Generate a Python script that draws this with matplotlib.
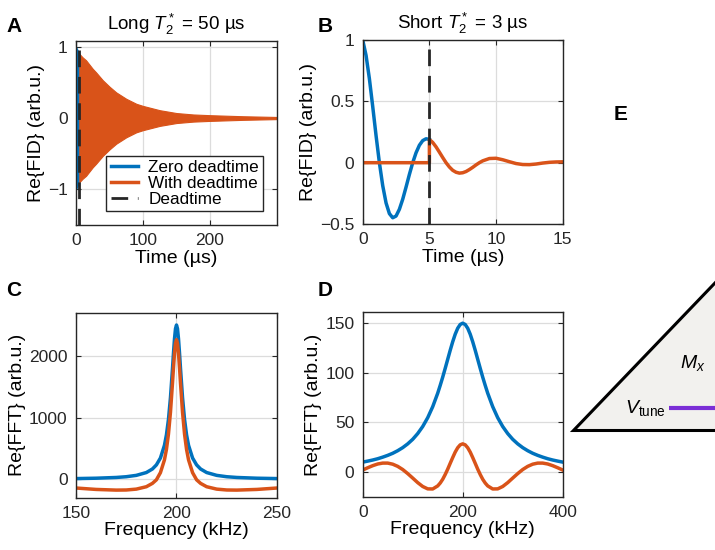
import matplotlib
matplotlib.use("Agg")
import matplotlib.pyplot as plt
from matplotlib.lines import Line2D
from matplotlib.patches import Polygon

BLUE = "#0072BD"
ORANGE = "#D95319"
DARK = "#262626"

# A: long T2*, envelope of the dense oscillation
tA_blue = [0, 5]
envA_blue = [1.0, 0.90]
tA = [5, 10, 15, 20, 25, 30, 40, 50, 60, 75, 90, 100, 125, 150, 175, 200, 250, 300]
envA = [0.90, 0.85, 0.81, 0.75, 0.69, 0.64, 0.53, 0.44, 0.36, 0.27, 0.20, 0.17,
        0.11, 0.07, 0.05, 0.04, 0.025, 0.015]
deadtime = 5

# B: short T2*
tB_blue = [0, 0.25, 0.5, 0.75, 1.0, 1.25, 1.5, 1.75, 2.0, 2.25, 2.5, 2.75, 3.0,
           3.25, 3.5, 3.75, 4.0, 4.25, 4.5, 4.75, 5.0]
fidB_blue = [1.0, 0.875, 0.685, 0.458, 0.221, 0.0, -0.187, -0.328, -0.415, -0.449,
             -0.435, -0.380, -0.298, -0.199, -0.096, 0.0, 0.081, 0.142, 0.180, 0.195, 0.189]
tB_orange = [0, 5, 5, 5.25, 5.5, 5.75, 6.0, 6.25, 6.5, 6.75, 7.0, 7.25, 7.5, 7.75,
             8.0, 8.25, 8.5, 8.75, 9.0, 9.5, 10.0, 10.5, 11.0, 11.5, 12.0, 12.5,
             13.0, 13.5, 14.0, 14.5, 15.0]
fidB_orange = [0, 0, 0.189, 0.165, 0.129, 0.086, 0.042, 0.0, -0.035, -0.062, -0.078,
               -0.085, -0.082, -0.072, -0.056, -0.038, -0.018, 0.0, 0.015, 0.034,
               0.036, 0.024, 0.008, -0.007, -0.015, -0.016, -0.011, -0.003, 0.003,
               0.006, 0.007]

# C: spectrum, long T2*
fC = [150, 160, 170, 175, 180, 185, 188, 190, 192, 194, 195, 196, 197, 198, 198.5,
      199, 199.5, 200, 200.5, 201, 201.5, 202, 203, 204, 205, 206, 208, 210, 212,
      215, 220, 225, 230, 240, 250]
ftC_blue = [10, 16, 28, 40, 62, 108, 165, 232, 343, 549, 721, 970, 1324, 1792, 2046,
            2275, 2440, 2500, 2440, 2275, 2046, 1792, 1324, 970, 721, 549, 343, 232,
            165, 108, 62, 40, 28, 16, 10]
ftC_orange = [-143, -166, -177, -175, -161, -122, -68, -10, 106, 313, 484, 732, 1087,
              1555, 1808, 2037, 2202, 2262, 2202, 2037, 1808, 1555, 1087, 732, 484,
              313, 106, -10, -68, -122, -161, -175, -177, -166, -143]

# D: spectrum, short T2*
fD = [0, 10, 20, 30, 40, 50, 60, 70, 80, 90, 100, 110, 120, 130, 140, 150, 155, 160,
      165, 170, 175, 180, 185, 190, 195, 200, 205, 210, 215, 220, 225, 230, 235, 240,
      245, 250, 260, 270, 280, 290, 300, 310, 320, 330, 340, 350, 360, 370, 380, 390,
      400]
ftD_blue = [9.9, 10.9, 12.0, 13.3, 14.9, 16.7, 18.8, 21.4, 24.5, 28.3, 32.9, 38.7,
            45.8, 54.7, 65.8, 79.4, 87.3, 95.6, 104.5, 113.6, 122.7, 131.3, 138.9,
            144.9, 148.7, 150, 148.7, 144.9, 138.9, 131.3, 122.7, 113.6, 104.5, 95.6,
            87.3, 79.4, 65.8, 54.7, 45.8, 38.7, 32.9, 28.3, 24.5, 21.4, 18.8, 16.7,
            14.9, 13.3, 12.0, 10.9, 9.9]
ftD_orange = [1.9, 4.2, 6.3, 8.0, 8.9, 8.9, 7.8, 5.6, 2.4, -1.7, -6.2, -10.8, -14.7,
              -17.1, -17.2, -14.1, -11.2, -7.4, -2.6, 2.8, 8.7, 14.5, 20.0, 24.4,
              27.3, 28.3, 27.3, 24.4, 20.0, 14.5, 8.7, 2.8, -2.6, -7.4, -11.2, -14.1,
              -17.2, -17.1, -14.7, -10.8, -6.2, -1.7, 2.4, 5.6, 7.8, 8.9, 8.9, 8.0,
              6.3, 4.2, 1.9]

legend_labels = ["Zero deadtime", "With deadtime", "Deadtime"]

# E: diagram fragment (figure pixels)
triangle_x = [573, 760, 760]
triangle_y = [430, 430, 235]
vtune_x = [669, 716]
vtune_y = [408, 408]

plt.rcParams["font.family"] = ["Liberation Sans", "DejaVu Sans"]
plt.rcParams["mathtext.fontset"] = "custom"
plt.rcParams["mathtext.rm"] = "Liberation Sans"
plt.rcParams["mathtext.it"] = "Liberation Sans:italic"


def style(ax, xlim, ylim, xticks, yticks, yticklabels=None):
    ax.set_xlim(xlim)
    ax.set_ylim(ylim)
    ax.set_xticks(xticks)
    ax.set_yticks(yticks)
    if yticklabels is not None:
        ax.set_yticklabels(yticklabels)
    ax.grid(True, color="#dcdcdc", lw=0.9)
    ax.set_axisbelow(True)
    ax.tick_params(direction="in", top=True, right=True, length=3.5, width=0.8,
                   labelsize=12.5, pad=6, colors=DARK)
    for s in ax.spines.values():
        s.set_color(DARK)
        s.set_linewidth(1.0)


def main():
    fig = plt.figure(figsize=(7.15, 5.5), dpi=100)

    # A
    ax = fig.add_axes([0.1063, 0.5909, 0.2811, 0.3345])
    ax.fill_between(tA_blue, [-v for v in envA_blue], envA_blue, color=BLUE, lw=0.8)
    ax.fill_between(tA, [-v for v in envA], envA, color=ORANGE, lw=0.8, edgecolor=ORANGE)
    ax.axvline(deadtime, color=DARK, lw=2, dashes=(6, 3.5))
    style(ax, (0, 300), (-1.5, 1.08), [0, 100, 200], [-1, 0, 1])
    ax.set_xlabel("Time (µs)", fontsize=14, labelpad=1)
    ax.set_ylabel("Re{FID} (arb.u.)", fontsize=14, labelpad=2)
    ax.set_title(r"Long $T_2^*$ = 50 µs", fontsize=13.5, pad=8)
    handles = [Line2D([], [], color=BLUE, lw=2.5),
               Line2D([], [], color=ORANGE, lw=2.5),
               Line2D([], [], color=DARK, lw=2, dashes=(6, 3.5))]
    leg = ax.legend(handles, legend_labels, loc="lower right", fontsize=12.3,
                    frameon=True, fancybox=False, edgecolor=DARK, framealpha=1,
                    labelspacing=0.05, borderpad=0.25, handlelength=1.6,
                    handletextpad=0.6, borderaxespad=0.8)
    leg.get_frame().set_linewidth(1.0)

    # B
    ax = fig.add_axes([0.5073, 0.5927, 0.2797, 0.3345])
    ax.plot(tB_blue, fidB_blue, color=BLUE, lw=2.5)
    ax.plot(tB_orange, fidB_orange, color=ORANGE, lw=2.5)
    ax.axvline(deadtime, color=DARK, lw=2, dashes=(6, 3.5))
    style(ax, (0, 15), (-0.5, 1), [0, 5, 10, 15], [-0.5, 0, 0.5, 1],
          ["\u22120.5", "0", "0.5", "1"])
    ax.set_xlabel("Time (µs)", fontsize=14, labelpad=1)
    ax.set_ylabel("Re{FID} (arb.u.)", fontsize=14, labelpad=2)
    ax.set_title(r"Short $T_2^*$ = 3 µs", fontsize=13.5, pad=8)

    # C
    ax = fig.add_axes([0.1063, 0.0951, 0.2811, 0.3364])
    ax.plot(fC, ftC_blue, color=BLUE, lw=2.5)
    ax.plot(fC, ftC_orange, color=ORANGE, lw=2.5)
    style(ax, (150, 250), (-300, 2700), [150, 200, 250], [0, 1000, 2000])
    ax.set_xlabel("Frequency (kHz)", fontsize=14, labelpad=1)
    ax.set_ylabel("Re{FFT} (arb.u.)", fontsize=14, labelpad=2)

    # D
    ax = fig.add_axes([0.5073, 0.0969, 0.2797, 0.3353])
    ax.plot(fD, ftD_blue, color=BLUE, lw=2.5)
    ax.plot(fD, ftD_orange, color=ORANGE, lw=2.5)
    style(ax, (0, 400), (-25, 161), [0, 200, 400], [0, 50, 100, 150])
    ax.set_xlabel("Frequency (kHz)", fontsize=14, labelpad=1)
    ax.set_ylabel("Re{FFT} (arb.u.)", fontsize=14, labelpad=2)

    # E fragment
    ax = fig.add_axes([560 / 715, 0, 155 / 715, 1])
    ax.set_xlim(560, 715)
    ax.set_ylim(550, 0)
    ax.axis("off")
    ax.add_patch(Polygon(list(zip(triangle_x, triangle_y)), closed=True,
                         facecolor="#f2f1ee", edgecolor="black", lw=2.2))
    ax.plot(vtune_x, vtune_y, color="#7b2fd6", lw=3, solid_capstyle="butt")
    ax.text(693, 363, r"$M_x$", fontsize=14, ha="center", va="center")
    ax.text(666, 408, r"$V_{\mathrm{tune}}$", fontsize=14, ha="right", va="center")

    # panel letters
    for lab, x, y in [("A", 14, 26), ("B", 325, 27), ("C", 14, 290),
                      ("D", 325, 290), ("E", 621, 115)]:
        fig.text(x / 715, 1 - y / 550, lab, fontsize=15, fontweight="bold",
                 ha="center", va="center")

    fig.savefig("out.png", dpi=100)


if __name__ == "__main__":
    main()
